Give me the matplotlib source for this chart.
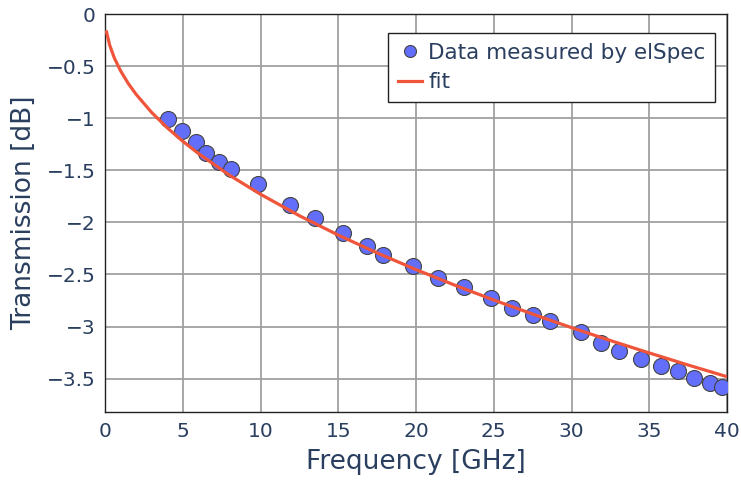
import numpy as np
import matplotlib.pyplot as plt
from matplotlib.ticker import FuncFormatter

# Measured transmission
freq = [4.05, 4.95, 5.85, 6.5, 7.33, 8.1, 9.84, 11.9, 13.5, 15.3, 16.85, 17.9,
        19.8, 21.4, 23.1, 24.8, 26.2, 27.5, 28.6, 30.6, 31.9, 33.05, 34.5,
        35.75, 36.85, 37.9, 38.9, 39.7]
trans = [-1.01, -1.125, -1.23, -1.33, -1.42, -1.49, -1.635, -1.83, -1.96, -2.10,
         -2.23, -2.31, -2.42, -2.53, -2.625, -2.73, -2.82, -2.89, -2.95, -3.05,
         -3.16, -3.23, -3.31, -3.375, -3.43, -3.49, -3.54, -3.58]

# Fit curve
fit_freq = [0.1, 0.3, 0.6, 1, 1.5, 2, 3, 4, 5, 6, 8, 10, 12.5, 15, 17.5, 20,
            22.5, 25, 27.5, 30, 32.5, 35, 37.5, 40]
fit_trans = [-0.172, -0.298, -0.422, -0.545, -0.668, -0.771, -0.945, -1.092,
             -1.221, -1.338, -1.547, -1.730, -1.936, -2.122, -2.293, -2.453,
             -2.603, -2.745, -2.880, -3.010, -3.134, -3.253, -3.369, -3.481]

x_ticks = [0, 5, 10, 15, 20, 25, 30, 35, 40]
y_ticks = [0, -0.5, -1, -1.5, -2, -2.5, -3, -3.5]

font_color = '#2a3f5f'
plt.rcParams['font.family'] = ['DejaVu Sans']

fig = plt.figure(figsize=(7.41, 4.84), dpi=100)
ax = fig.add_axes([105 / 741, 1 - 412 / 484, 622 / 741, 398 / 484])

ax.plot(freq, trans, 'o', color='#636efa', markersize=11.5,
        markeredgecolor='#444444', markeredgewidth=0.8,
        label='Data measured by elSpec', zorder=3)
ax.plot(fit_freq, fit_trans, color='#ef553b', linewidth=2.3, label='fit', zorder=4)

ax.set_xlim(0, 40)
ax.set_ylim(-3.82, 0)
ax.set_xticks(x_ticks)
ax.set_yticks(y_ticks)
ax.yaxis.set_major_formatter(FuncFormatter(lambda v, p: ('%g' % v).replace('-', '\u2212')))
ax.grid(True, color='#a0a0a0', linewidth=1.3)
ax.set_axisbelow(True)
ax.tick_params(length=0, labelsize=14.5, labelcolor=font_color, pad=7)
for s in ax.spines.values():
    s.set_color('#222222')
    s.set_linewidth(1.0)

ax.set_xlabel('Frequency [GHz]', fontsize=19, color=font_color, labelpad=6)
ax.set_ylabel('Transmission [dB]', fontsize=19, color=font_color, labelpad=7)

leg = ax.legend(loc='upper right', bbox_to_anchor=(0.981, 0.952), borderaxespad=0,
                fontsize=15.5, frameon=True, fancybox=False, handlelength=1.1,
                handletextpad=0.3, borderpad=0.45, labelspacing=0.43,
                markerscale=0.75)
for t in leg.get_texts():
    t.set_color(font_color)
leg.get_frame().set_edgecolor('#222222')
leg.get_frame().set_linewidth(1.0)
leg.get_frame().set_alpha(1)

fig.savefig('out.png', dpi=100)
